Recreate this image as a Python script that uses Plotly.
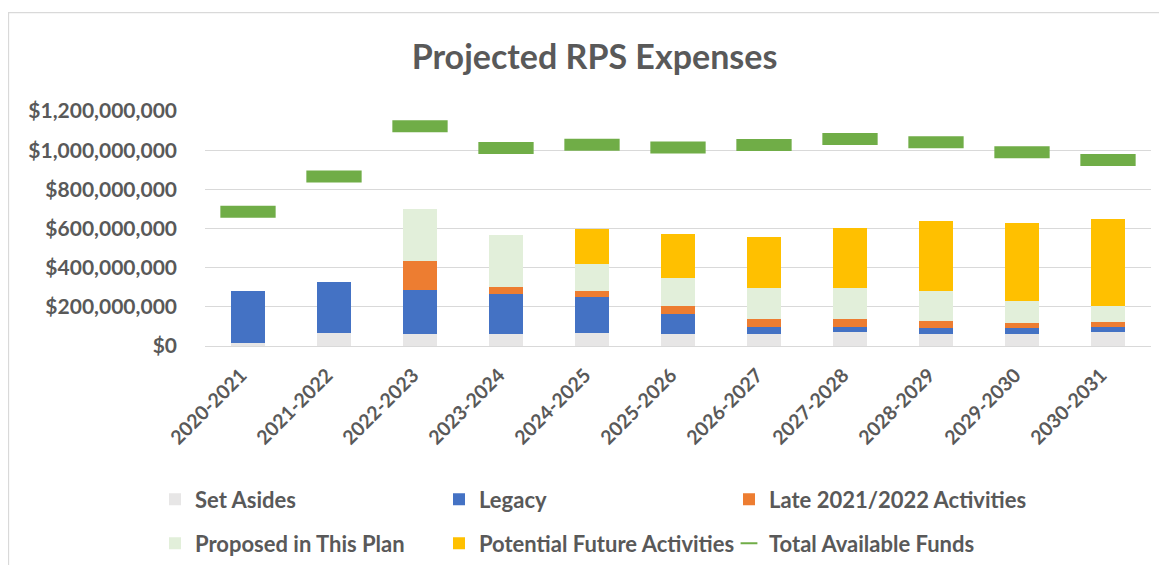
import plotly.graph_objects as go

categories = ["2020-2021", "2021-2022", "2022-2023", "2023-2024", "2024-2025", "2025-2026",
              "2026-2027", "2027-2028", "2028-2029", "2029-2030", "2030-2031"]
set_asides = [15e6, 68e6, 59e6, 59e6, 68e6, 59e6, 59e6, 71e6, 59e6, 59e6, 69e6]
legacy = [265e6, 259e6, 228e6, 209e6, 182e6, 102e6, 39e6, 27e6, 31e6, 31e6, 29e6]
late_2021_2022 = [0, 0, 147e6, 32e6, 33e6, 41e6, 39.5e6, 39.5e6, 39e6, 29e6, 27e6]
proposed = [0, 0, 264e6, 268e6, 136e6, 146e6, 157.5e6, 157.5e6, 154e6, 110e6, 80e6]
potential_future = [0, 0, 0, 0, 178e6, 222e6, 262e6, 309e6, 357e6, 401e6, 445e6]
total_available = [685e6, 866e6, 1122e6, 1011e6, 1028e6, 1014e6, 1027e6, 1057e6, 1040e6, 989e6, 950e6]
y_ticks = [0, 200e6, 400e6, 600e6, 800e6, 1000e6, 1200e6]
y_tick_text = ["$0", "$200,000,000", "$400,000,000", "$600,000,000", "$800,000,000",
               "$1,000,000,000", "$1,200,000,000"]

TXT = "#595959"
FONT = "Lato"

# page body has an 8px margin; figure coords = screen coords - 8
FW, FH = 1151, 557
L, R, T, B = 197, 1143, 103, 338.3
W, H = R - L, B - T
def px(x):
    return (x - L) / W
def py(y):
    return (B - y) / H

fig = go.Figure()
bar_series = [
    ("Set Asides", set_asides, "#E7E6E6", "legend"),
    ("Legacy", legacy, "#4472C4", "legend2"),
    ("Late 2021/2022 Activities", late_2021_2022, "#ED7D31", "legend3"),
    ("Proposed in This Plan", proposed, "#E2EFDA", "legend4"),
    ("Potential Future Activities", potential_future, "#FFC000", "legend5"),
]
for name, vals, col, lg in bar_series:
    fig.add_trace(go.Bar(x=categories, y=vals, name=name, marker=dict(color=col, line=dict(width=0)),
                         legend=lg))

# line-ew marker length = 1.4 * size -> ~55px dash
fig.add_trace(go.Scatter(x=categories, y=total_available, name="Total Available Funds", mode="markers",
                         marker=dict(symbol="line-ew", size=39.5, color="#70AD47",
                                     line=dict(width=12, color="#70AD47")),
                         legend="legend6"))

lf = dict(family=FONT, size=22, color=TXT, weight="bold")
col_x = [147, 431, 721]
row_y = [492, 536]
legend_pos = {
    "legend": (col_x[0], row_y[0]),
    "legend2": (col_x[1], row_y[0]),
    "legend3": (col_x[2], row_y[0]),
    "legend4": (col_x[0], row_y[1]),
    "legend5": (col_x[1], row_y[1]),
    "legend6": (col_x[2], row_y[1]),
}
legend_layout = {}
for k, (lx, ly) in legend_pos.items():
    legend_layout[k] = dict(x=px(lx), y=py(ly), xanchor="left", yanchor="middle", font=lf,
                            bgcolor="rgba(0,0,0,0)", itemsizing="constant" if k == "legend6" else "trace")

fig.update_layout(
    width=FW, height=FH,
    margin=dict(l=L, r=FW - R, t=T, b=FH - B, autoexpand=False),
    paper_bgcolor="white", plot_bgcolor="white",
    barmode="stack", bargap=0.6,
    showlegend=True,
    title=dict(text="Projected RPS Expenses", x=586.5 / FW, xref="container", xanchor="center",
               y=1 - 49 / FH, yref="container", yanchor="middle",
               font=dict(family=FONT, size=34, color=TXT, weight="bold")),
    xaxis=dict(range=[-0.5, 10.5], automargin=False, tickangle=-45,
               tickfont=dict(family=FONT, size=19.5, color=TXT, weight="bold"),
               showgrid=False, showline=False, ticks="",
               ticklabelstandoff=13, ticklabelshift=-7),
    yaxis=dict(range=[0, 1.2e9], automargin=False, tickvals=y_ticks, ticktext=y_tick_text,
               tickfont=dict(family=FONT, size=21, color=TXT, weight="bold"),
               showgrid=True, gridcolor="#D9D9D9", gridwidth=1.3,
               zeroline=True, zerolinecolor="#D9D9D9", zerolinewidth=1.3,
               ticklabelstandoff=27),
    shapes=[dict(type="rect", xref="paper", yref="paper",
                 x0=px(0.5), x1=px(1180), y0=py(590), y1=py(4.5),
                 line=dict(color="#D9D9D9", width=1.3), fillcolor="rgba(0,0,0,0)", layer="below")],
    **legend_layout,
)

fig.write_html("out.html")
